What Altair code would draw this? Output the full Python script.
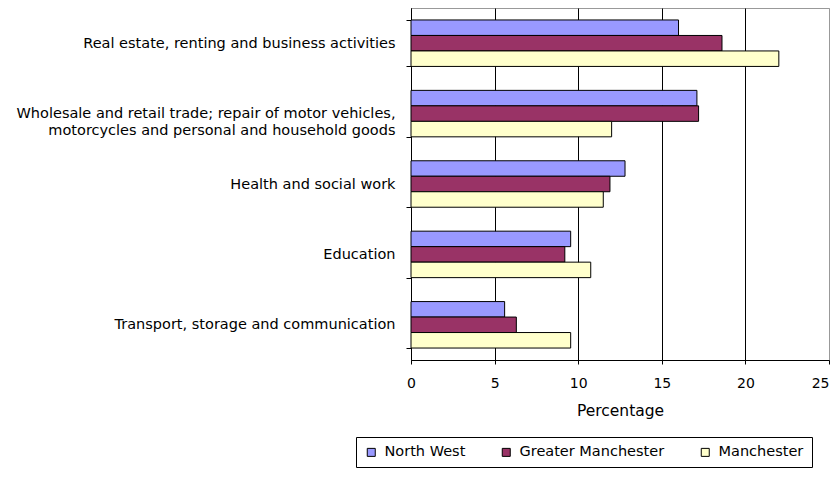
import altair as alt
import pandas as pd

categories = [
    "Real estate, renting and business activities",
    "Wholesale and retail trade; repair of motor vehicles,|motorcycles and personal and household goods",
    "Health and social work",
    "Education",
    "Transport, storage and communication",
]
series = ["North West", "Greater Manchester", "Manchester"]
north_west = [16.0, 17.1, 12.8, 9.55, 5.6]
greater_manchester = [18.6, 17.2, 11.9, 9.2, 6.3]
manchester = [22.0, 12.0, 11.5, 10.75, 9.55]
x_ticks = [0, 5, 10, 15, 20, 25]
colors = ["#9999FF", "#993366", "#FFFFCC"]

rows = []
for s, vals in zip(series, [north_west, greater_manchester, manchester]):
    for c, v in zip(categories, vals):
        rows.append({"Industry": c, "Area": s, "Percentage": v})
df = pd.DataFrame(rows)

FONT = "DejaVu Sans"

chart = alt.Chart(df).mark_bar(stroke="black", strokeWidth=1).encode(
    y=alt.Y(
        "Industry:N",
        sort=categories,
        title=None,
        scale=alt.Scale(paddingInner=0.34, paddingOuter=0.17),
        axis=alt.Axis(
            labelExpr="split(datum.label, '|')",
            labelFont=FONT,
            labelFontSize=14.5,
            labelColor="black",
            labelLineHeight=17,
            labelPadding=11,
            tickBand="extent",
            tickSize=5,
            tickColor="black",
            domainColor="black",
            labelLimit=400,
        ),
    ),
    yOffset=alt.YOffset("Area:N", sort=series, scale=alt.Scale(paddingInner=0, paddingOuter=0)),
    x=alt.X(
        "Percentage:Q",
        scale=alt.Scale(domain=[0, 25], nice=False),
        axis=alt.Axis(
            values=x_ticks,
            title="Percentage",
            titleFont=FONT,
            titleFontSize=15.5,
            titleFontWeight="normal",
            titleColor="black",
            titlePadding=13,
            labelFont=FONT,
            labelFontSize=14,
            labelColor="black",
            labelPadding=12,
            labelFlush=False,
            labelAlign=alt.condition("datum.value >= 25", alt.value("right"), alt.value("center")),
            tickSize=4,
            tickColor="black",
            domainColor="black",
            grid=True,
            gridColor=alt.condition("datum.value >= 25", alt.value("#999999"), alt.value("black")),
            gridOpacity=1,
        ),
    ),
    color=alt.Color(
        "Area:N",
        sort=series,
        scale=alt.Scale(domain=series, range=colors),
        legend=alt.Legend(
            title=None,
            orient="none",
            legendX=-55,
            legendY=429,
            direction="horizontal",
            labelFont=FONT,
            labelFontSize=14.5,
            labelColor="black",
            symbolType="square",
            symbolSize=64,
            symbolStrokeColor="black",
            symbolStrokeWidth=1,
            symbolOpacity=1,
            columnPadding=33,
            labelOffset=6,
            strokeColor="black",
            padding=8,
        ),
    ),
).properties(
    width=418,
    height=352,
    autosize=alt.AutoSizeParams(type="none"),
    padding={"left": 403, "top": 0, "right": 1, "bottom": 109},
).configure_view(
    stroke="#999999", strokeWidth=1
)

chart.save("out.html", embed_options={"renderer": "svg", "actions": False})
